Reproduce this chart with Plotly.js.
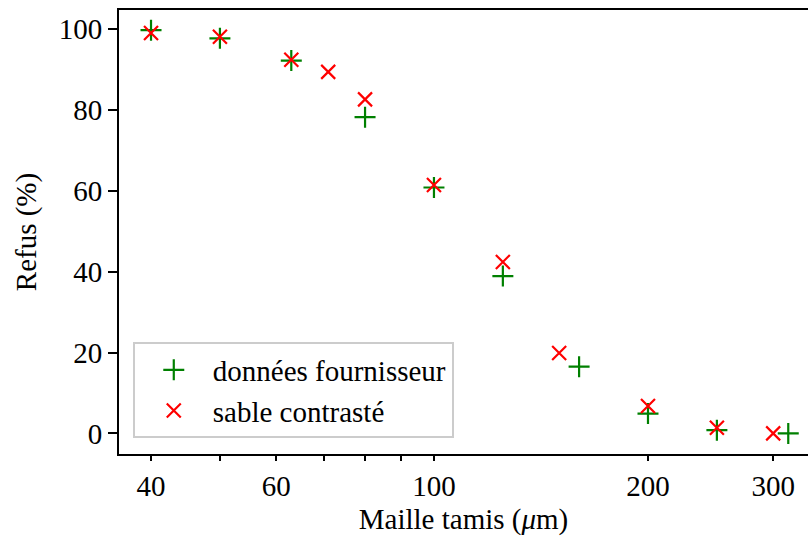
<!DOCTYPE html>
<html>
<head>
<meta charset="utf-8">
<script src="https://cdn.plot.ly/plotly-3.0.1.min.js"></script>
<style>html,body{margin:0;padding:0;background:#fff;}</style>
</head>
<body>
<div id="chart" style="width:808px;height:538px;"></div>
<script>
const xFournisseur = [40, 50, 63, 80, 100, 125, 160, 200, 250, 315];
const yFournisseur = [99.7, 97.7, 92.2, 78.2, 60.8, 38.9, 16.5, 4.9, 0.8, 0];
const xSable = [40, 50, 63, 71, 80, 100, 125, 150, 200, 250, 300];
const ySable = [99.0, 98.1, 92.4, 89.4, 82.6, 61.4, 42.4, 19.9, 6.75, 1.4, 0];
const xTickVals = [40, 60, 100, 200, 300];
const xTickText = ['40', '60', '100', '200', '300'];
const xMinorVals = [50, 70, 80, 90];
const yTickVals = [0, 20, 40, 60, 80, 100];

const FONT = 'Liberation Serif, Times New Roman, serif';
const FS = 29;

const traces = [
  {
    x: xFournisseur, y: yFournisseur, name: 'données fournisseur',
    type: 'scatter', mode: 'markers',
    marker: {symbol: 'cross-thin', size: 15, color: '#008000', line: {color: '#008000', width: 2.2}}
  },
  {
    x: xSable, y: ySable, name: 'sable contrasté',
    type: 'scatter', mode: 'markers',
    marker: {symbol: 'x-thin', size: 14, color: '#ff0000', line: {color: '#ff0000', width: 2.2}}
  }
];

const layout = {
  width: 808, height: 538,
  margin: {l: 119, r: 0, t: 10, b: 84},
  paper_bgcolor: '#fff', plot_bgcolor: '#fff',
  font: {family: FONT, size: FS, color: '#000'},
  showlegend: true,
  legend: {
    x: 0.02, y: 0.035, xanchor: 'left', yanchor: 'bottom',
    bgcolor: 'rgba(255,255,255,0.8)', bordercolor: '#cccccc', borderwidth: 2,
    font: {family: FONT, size: FS},
    itemwidth: 68, tracegroupgap: 0,
    entrywidth: 365, entrywidthmode: 'pixels'
  },
  xaxis: {
    type: 'log',
    range: [Math.log10(36.06), Math.log10(335.8)],
    tickmode: 'array', tickvals: xTickVals, ticktext: xTickText,
    ticks: 'outside', ticklen: 5, tickwidth: 2, tickcolor: '#000',
    minor: {tickmode: 'array', tickvals: xMinorVals, ticks: 'outside', ticklen: 5, tickwidth: 2, tickcolor: '#000', showgrid: false},
    showline: true, linecolor: '#000', linewidth: 2, mirror: true,
    showgrid: false, zeroline: false,
    tickfont: {family: FONT, size: FS},
    title: {text: 'Maille tamis (<i>μ</i>m)', font: {family: FONT, size: FS}, standoff: 8}
  },
  yaxis: {
    range: [-5.1, 104.7],
    tickmode: 'array', tickvals: yTickVals,
    ticks: 'outside', ticklen: 9, tickwidth: 2, tickcolor: '#000',
    showline: true, linecolor: '#000', linewidth: 2, mirror: false,
    showgrid: false, zeroline: false,
    tickfont: {family: FONT, size: FS},
    title: {text: 'Refus (%)', font: {family: FONT, size: FS}, standoff: 14}
  },
  shapes: [
    // longer major tick at 100 (log10(100) = 2)
    {type: 'line', xref: 'x', yref: 'paper', x0: 2, x1: 2, y0: 0, y1: -9,
     ysizemode: 'pixel', yanchor: 0, line: {color: '#000', width: 2}}
  ]
};

Plotly.newPlot('chart', traces, layout, {staticPlot: true, displayModeBar: false});
</script>
</body>
</html>
